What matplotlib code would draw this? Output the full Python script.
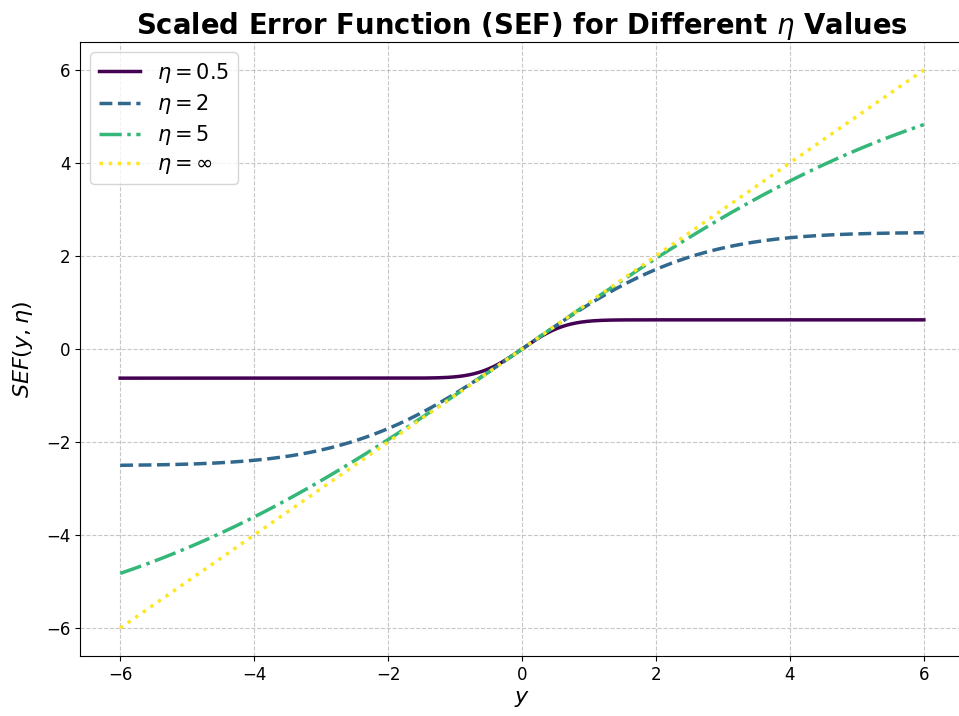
import math
import numpy as np
import matplotlib
matplotlib.use("Agg")
import matplotlib.pyplot as plt

# Shape parameters of the scaled error function
etas = [0.5, 2, 5, np.inf]
labels = [r"$\eta = 0.5$", r"$\eta = 2$", r"$\eta = 5$", r"$\eta = \infty$"]
colors = ["#440154", "#31688e", "#35b779", "#fde725"]
styles = ["-", "--", "-.", ":"]

y = np.linspace(-6, 6, 500)
erf = np.vectorize(math.erf)


def sef(y, eta):
    """Scaled error function: sqrt(pi/2)*eta*erf(y/(sqrt(2)*eta)); identity as eta -> inf."""
    if np.isinf(eta):
        return y.copy()
    return np.sqrt(np.pi / 2) * eta * erf(y / (np.sqrt(2) * eta))


fig = plt.figure(figsize=(9.59, 7.16), dpi=100)
ax = fig.add_axes([80 / 959, 60 / 716, 884 / 959, 614 / 716])

for eta, lab, c, ls in zip(etas, labels, colors, styles):
    ax.plot(y, sef(y, eta), color=c, linestyle=ls, linewidth=2.5, label=lab)

ax.set_title("Scaled Error Function (SEF) for Different $\\eta$ Values",
             fontsize=19.8, fontweight="bold")
ax.set_xlabel("$y$", fontsize=16)
ax.set_ylabel("$SEF(y, \\eta)$", fontsize=16, labelpad=8)
ax.tick_params(labelsize=12)
ax.grid(True, linestyle="--", alpha=0.7)
ax.legend(fontsize=15, loc="upper left", labelspacing=0.34)

fig.savefig("out.png", dpi=100)
